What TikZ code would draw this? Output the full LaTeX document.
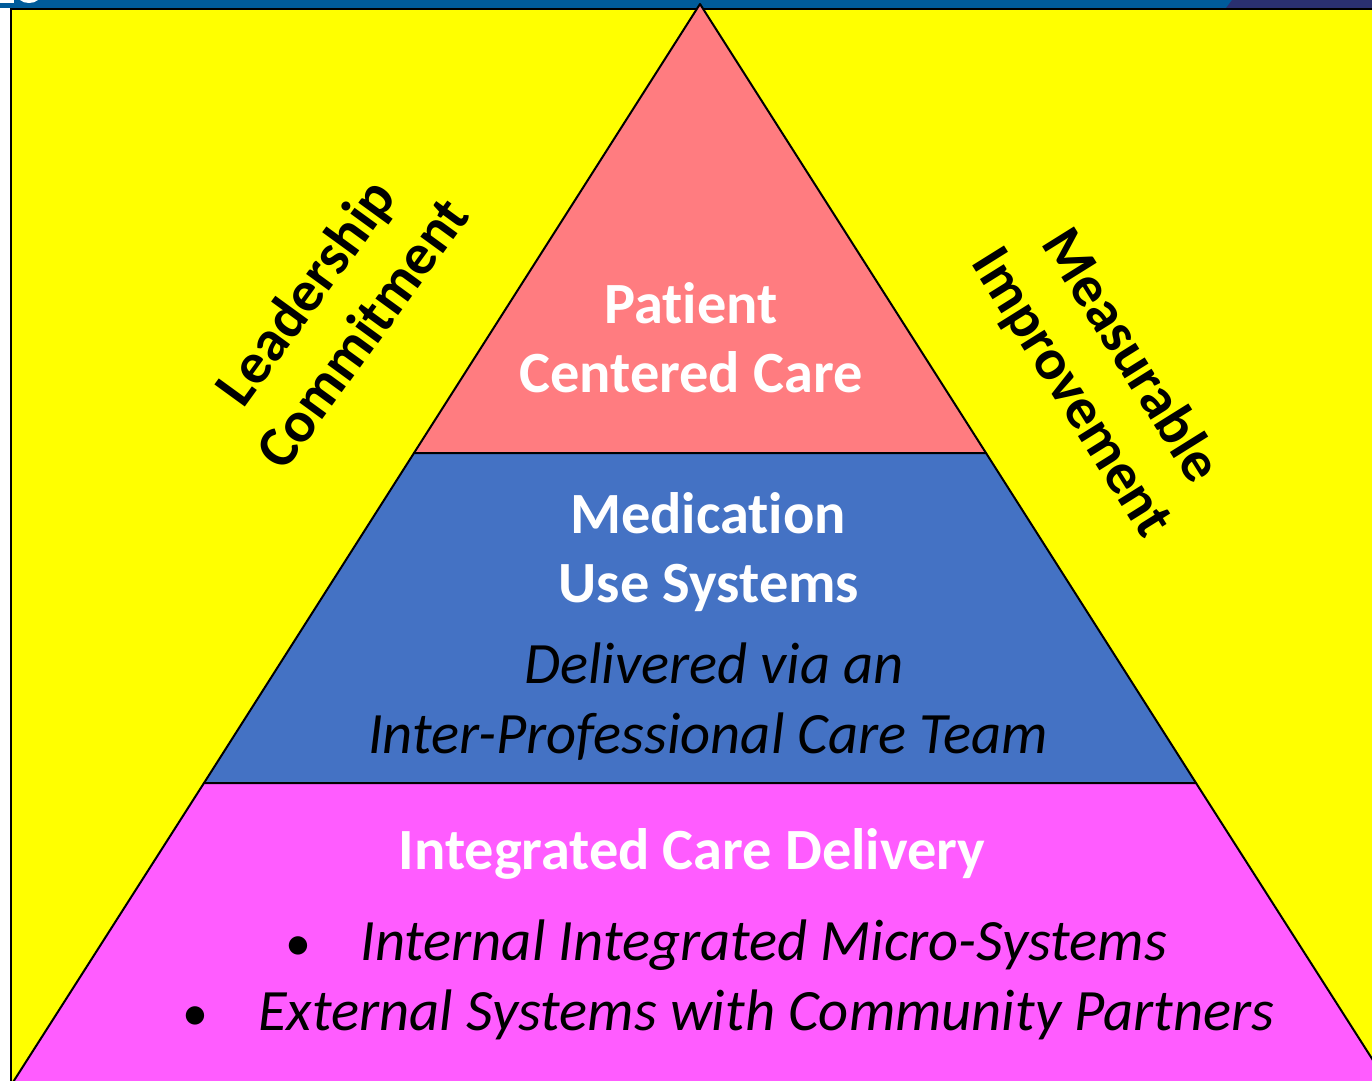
\documentclass[tikz,border=0pt]{standalone}
\usepackage{fontspec}
\setmainfont{Carlito}[Ligatures={NoCommon}]
\definecolor{topP}{HTML}{FF7C80}
\definecolor{midB}{HTML}{4472C4}
\definecolor{botM}{HTML}{FF5CFF}
\definecolor{stripB}{HTML}{005B9A}
\definecolor{stripN}{HTML}{2A3070}
\definecolor{bgY}{HTML}{FFFF00}
\begin{document}
\begin{tikzpicture}[x=0.5pt,y=-0.5pt,
  edge/.style={draw=black,line width=1pt,line join=round},
  head/.style={font=\fontsize{29.2}{34}\selectfont\bfseries,text=white,anchor=base,inner sep=0pt},
  sub/.style={font=\fontsize{29.3}{34}\selectfont\itshape,text=black,anchor=base,inner sep=0pt},
  side/.style={font=\fontsize{29}{35}\selectfont\bfseries,text=black,align=center,inner sep=0pt}]
\useasboundingbox (0,0) rectangle (1372,1081);
\begin{scope}
\clip (0,0) rectangle (1372,1081);
\fill[white] (0,0) rectangle (1372,1081);
\fill[stripB] (0,0) rectangle (1372,8);
\fill[stripN] (1232,0) -- (1380,0) -- (1380,8) -- (1226,8) -- cycle;
\fill[white] (0,0) rectangle (14,3);
\fill[white] (20,0) .. controls (24,4) and (34,4) .. (38,0) -- cycle;
\filldraw[fill=bgY,draw=black,line width=1.2pt] (11,9) rectangle (1400,1100);
\filldraw[fill=topP,edge] (700,4) -- (986,453) -- (414,453) -- cycle;
\filldraw[fill=midB,edge] (414,453) -- (986,453) -- (1196,783) -- (204,783) -- cycle;
\filldraw[fill=botM,edge] (204,783) -- (1196,783) -- (1392,1090) -- (8,1090) -- cycle;
\end{scope}

\node[head] (p1) at (691,323) {Patient};
\node[head] (p2) at (691,392) {Centered Care};
\node[head] (m1) at (708,533) {Medication};
\node[head] (m2) at (709,602) {Use Systems};
\node[sub] (d1) at (714,683) {Delivered via an};
\node[sub] (d2) at (708,753) {Inter-Professional Care Team};
\node[head] (i1) at (692,869) {Integrated Care Delivery};
\node[sub,font=\fontsize{26}{30}\selectfont] (b1) at (298,960) {•};
\node[sub,anchor=base west] (t1) at (360,960) {Internal Integrated Micro-Systems};
\node[sub,font=\fontsize{26}{30}\selectfont] (b2) at (195,1030) {•};
\node[sub,anchor=base west] (t2) at (258,1030) {External Systems with Community Partners};

\node[side,rotate=54] (lc) at (333,312) {Leadership\\Commitment};
\node[side,rotate=-58] (mi) at (1100,375) {Measurable\\Improvement};
\end{tikzpicture}
\end{document}
